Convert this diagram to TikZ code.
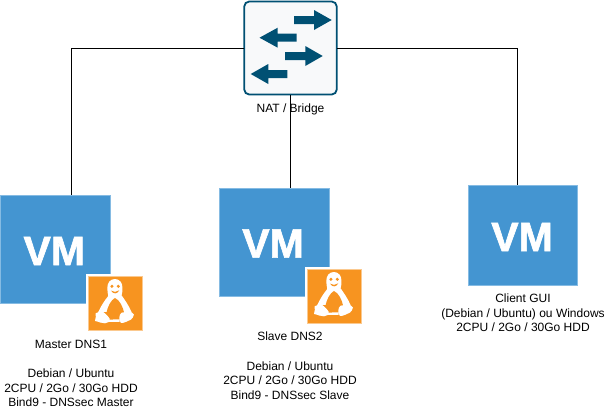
\documentclass[tikz,border=0pt]{standalone}
\usepackage{fontspec}
\setmainfont{Liberation Sans}
\newfontfamily\vmfont[UprightFont=* Bold,FakeBold=1.6]{Liberation Sans}
\definecolor{vmblue}{HTML}{4495D1}
\definecolor{vmedge}{HTML}{85BBE3}
\definecolor{tuxor}{HTML}{F79420}
\definecolor{tuxedge}{HTML}{FBC98F}
\definecolor{swteal}{HTML}{005073}
\definecolor{swfill}{HTML}{F8F9FA}
\tikzset{
  vmbox/.style={rectangle,draw=vmedge,fill=vmblue,line width=0.7pt,inner sep=0pt,outer sep=0pt,minimum width=#1},
  vmtext/.style={text=white,font=\fontsize{41}{41}\vmfont\selectfont,inner sep=0pt},
  tuxbox/.style={rectangle,draw=tuxedge,fill=tuxor,line width=0.7pt,inner sep=0pt,outer sep=0pt,minimum width=54.5pt,minimum height=54.5pt},
  gapbox/.style={rectangle,fill=white,inner sep=0pt,minimum width=60pt,minimum height=60pt},
  label/.style={align=center,font=\fontsize{12}{14.6}\selectfont,inner sep=0pt,text=black},
  link/.style={draw=black,line width=1pt},
  swarrow/.style={fill=swteal,draw=none},
  pics/tux/.style={code={
    \begin{scope}[x=0.333pt,y=-0.333pt]
      % silhouette: head and body
      \fill[white] (80,9) .. controls (66,9) and (57,20) .. (57,36)
        .. controls (57,46) and (59,54) .. (60,60)
        .. controls (50,72) and (38,90) .. (30,108)
        -- (130,108)
        .. controls (122,90) and (110,72) .. (100,58)
        .. controls (104,46) and (104,24) .. (97,17)
        .. controls (92,11) and (86,9) .. (80,9) -- cycle;
      % belly
      \fill[tuxor] (80,66) .. controls (68,72) and (58,92) .. (54,112)
        -- (54,132) -- (108,132) -- (108,112)
        .. controls (104,92) and (94,72) .. (80,66) -- cycle;
      % left foot
      \fill[white] (36,102) .. controls (44,106) and (58,118) .. (64,128)
        .. controls (68,138) and (56,141) .. (50,142)
        .. controls (40,143) and (32,137) .. (20,135)
        .. controls (26,126) and (20,120) .. (22,112)
        .. controls (28,111) and (32,108) .. (36,102) -- cycle;
      % right foot
      \fill[white] (122,102) .. controls (126,108) and (134,110) .. (137,116)
        .. controls (134,122) and (134,128) .. (128,131)
        .. controls (118,135) and (108,142) .. (98,141)
        .. controls (90,132) and (92,116) .. (100,110)
        .. controls (108,110) and (116,108) .. (122,102) -- cycle;
      % belly bar
      \fill[white] (62,131) -- (94,130) -- (94,138) -- (62,138) -- cycle;
      % eyes and beak
      \fill[tuxor] (71,31) circle (5);
      \fill[tuxor] (90,31) circle (5);
      \fill[tuxor] (68,44) .. controls (75,49) and (86,49) .. (93,43)
        .. controls (87,55) and (75,55) .. (68,44) -- cycle;
    \end{scope}
  }}
}
\begin{document}
\begin{tikzpicture}[x=1pt,y=-1pt]
\useasboundingbox (0,0) rectangle (605,410);
\fill[white] (0,0) rectangle (605,410);

% switch
\node[rectangle,rounded corners=5pt,draw=swteal,fill=swfill,line width=1.8pt,inner sep=0pt,outer sep=0pt,
  minimum width=92.5pt,minimum height=93pt] (sw) at (290.5,48) {};
\fill[swarrow] (294,16) -- (314,16) -- (314,10) -- (331.7,20) -- (314,30) -- (314,24) -- (294,24) -- cycle;
\fill[swarrow] (296.7,33.7) -- (277.7,33.7) -- (277.7,27.7) -- (259.5,37.7) -- (277.7,47.7) -- (277.7,41.7) -- (296.7,41.7) -- cycle;
\fill[swarrow] (285,52) -- (305.3,52) -- (305.3,46) -- (322.7,56) -- (305.3,66) -- (305.3,60) -- (285,60) -- cycle;
\fill[swarrow] (287.3,70) -- (268.3,70) -- (268.3,64) -- (250.7,74) -- (268.3,84) -- (268.3,78) -- (287.3,78) -- cycle;

\node[label] (natl) at (290.5,109) {NAT / Bridge};

% VMs
\node[vmbox=110pt,minimum height=108.5pt] (vma) at (55.2,249.2) {};
\node[vmtext] (vmat) at (54.3,251) {VM};
\node[gapbox] (gapa) at (115.5,303.5) {};
\node[tuxbox] (tuxa) at (115.5,303.5) {};
\pic at (88.3,276) {tux};

\node[vmbox=110pt,minimum height=108.5pt] (vmb) at (274,242.5) {};
\node[vmtext] (vmbt) at (273,243.5) {VM};
\node[gapbox] (gapb) at (334.5,296.5) {};
\node[tuxbox] (tuxb) at (334.5,296.5) {};
\pic at (307.3,269) {tux};

\node[vmbox=109pt,minimum height=100pt] (vmc) at (522.5,235) {};
\node[vmtext] (vmct) at (522,237) {VM};

% anchors for connectors
\coordinate (ina) at (71.5,195);
\coordinate (inb) at (290.5,188);
\coordinate (inc) at (517,185);
\coordinate (outl) at (sw.west);
\coordinate (outr) at (sw.east);

\draw[link] (outl) -| (ina);
\draw[link] (sw.south) -- (inb);
\draw[link] (outr) -| (inc);

% labels
\node[label,anchor=north] (txa) at (71,339.8) {Master DNS1\\[0pt]\strut\\Debian / Ubuntu\\2CPU / 2Go / 30Go HDD\\ Bind9 - DNSsec Master};
\node[label,anchor=north] (txb) at (290,332) {Slave DNS2\\[0pt]\strut\\Debian / Ubuntu\\2CPU / 2Go / 30Go HDD\\ Bind9 - DNSsec Slave};
\node[label,anchor=north] (txc) at (523,293.5) {Client GUI\\(Debian / Ubuntu) ou Windows\\2CPU / 2Go / 30Go HDD};
\end{tikzpicture}
\end{document}
